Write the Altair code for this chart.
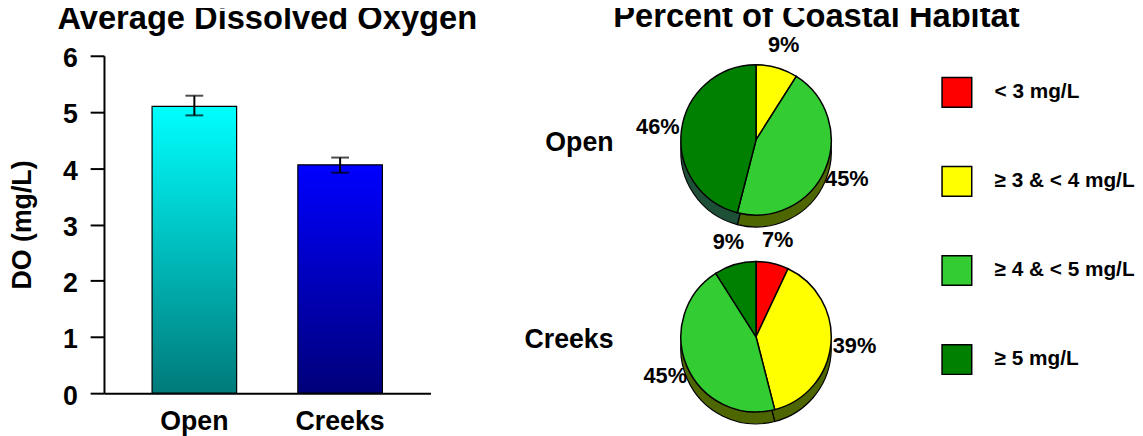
import altair as alt
import pandas as pd

FONT = "Liberation Sans"

# ---- data -------------------------------------------------------------
sites = ["Open", "Creeks"]
do_mean = [5.10, 4.06]
do_hi = [5.29, 4.19]
do_lo = [4.94, 3.92]

classes = ["< 3 mg/L", "≥ 3 & < 4 mg/L", "≥ 4 & < 5 mg/L", "≥ 5 mg/L"]
open_pct = [0, 9, 45, 46]
creeks_pct = [7, 39, 45, 9]

face_colors = ["#ff0000", "#ffff00", "#33cc33", "#008000"]
side_colors = ["#7a1a00", "#4d6600", "#4d6600", "#1e5038"]

bar_df = pd.DataFrame({"site": sites, "mean": do_mean, "hi": do_hi, "lo": do_lo})

rows = []
for s, vals in zip(sites, [open_pct, creeks_pct]):
    for i, (c, v) in enumerate(zip(classes, vals)):
        rows.append({"site": s, "cls": c, "idx": i, "pct": v})
pie_df = pd.DataFrame(rows)
site_df = pd.DataFrame({"site": sites})

# ---- bar chart --------------------------------------------------------
grad_open = {"gradient": "linear", "x1": 0, "y1": 0, "x2": 0, "y2": 1,
             "stops": [{"offset": 0, "color": "#00ffff"}, {"offset": 1, "color": "#007a7a"}]}
grad_creeks = {"gradient": "linear", "x1": 0, "y1": 0, "x2": 0, "y2": 1,
               "stops": [{"offset": 0, "color": "#0000ff"}, {"offset": 1, "color": "#00007a"}]}

xs = alt.X("site:N", sort=sites, title=None,
           scale=alt.Scale(paddingInner=0.42, paddingOuter=0.33),
           axis=alt.Axis(labelAngle=0, labelFontSize=27, labelFont=FONT, labelFontWeight="bold",
                         labelColor="black", labelPadding=16, ticks=False,
                         domainColor="black", domainWidth=2))
YT = "DO (mg/L)"
ys = alt.Y("mean:Q", title=YT, scale=alt.Scale(domain=[0, 6], nice=False),
           axis=alt.Axis(values=[0, 1, 2, 3, 4, 5, 6], format="d", grid=False, tickSize=14,
                         tickWidth=2, tickColor="black", domainColor="black", domainWidth=2,
                         labelFontSize=27, labelFontWeight="bold", labelFont=FONT,
                         labelColor="black", labelPadding=13, labelOffset=3,
                         titleFontSize=27, titleFont=FONT,
                         titleFontWeight="bold", titleColor="black", titlePadding=26))

bars = alt.Chart(bar_df).mark_bar(stroke="black", strokeWidth=1.2).encode(
    x=xs, y=ys,
    color=alt.condition(alt.datum.site == "Open", alt.value(grad_open), alt.value(grad_creeks)))
err = alt.Chart(bar_df).mark_rule(color="black", strokeWidth=2).encode(
    x=alt.X("site:N", sort=sites), y=alt.Y("lo:Q", title=YT), y2="hi:Q")
cap_hi = alt.Chart(bar_df).mark_tick(color="black", thickness=2, size=18).encode(
    x=alt.X("site:N", sort=sites), y=alt.Y("hi:Q", title=YT))
cap_lo = alt.Chart(bar_df).mark_tick(color="black", thickness=2, size=18).encode(
    x=alt.X("site:N", sort=sites), y=alt.Y("lo:Q", title=YT))

left = alt.layer(bars, err, cap_hi, cap_lo).properties(
    width=330, height=341, view=alt.ViewBackground(stroke=None),
    title=alt.TitleParams("Average Dissolved Oxygen", fontSize=33, font=FONT,
                          fontWeight="bold", color="black", anchor="middle", offset=9))

# ---- pies -------------------------------------------------------------
R = 76
base = alt.Chart(pie_df).transform_window(
    cum="sum(pct)", groupby=["site"], sort=[alt.SortField("idx")], frame=[None, 0]
).transform_calculate(
    start="datum.cum - datum.pct", mid="datum.cum - datum.pct / 2",
    lbl="datum.pct + '%'"
).transform_filter("datum.pct > 0")

yenc = alt.Y("site:N", scale=alt.Scale(type="point", domain=sites, range=[85, 284], padding=0),
             axis=None)
theta_scale = alt.Scale(domain=[0, 100])
cx = alt.value(254)

side_col = alt.Color("cls:N", scale=alt.Scale(domain=classes, range=side_colors), legend=None)
face_col = alt.Color("cls:N", scale=alt.Scale(domain=classes, range=face_colors),
                     legend=alt.Legend(title=None, orient="none", legendX=441, legendY=21,
                                       symbolType="square", symbolSize=900,
                                       symbolStrokeColor="black", symbolStrokeWidth=1.5,
                                       symbolOpacity=1, labelFont=FONT, labelFontSize=21,
                                       labelFontWeight="bold", labelColor="black",
                                       labelOffset=22, rowPadding=54, padding=0,
                                       labelLimit=300))

depth_layers = []
for off in [3, 6, 9]:
    depth_layers.append(base.mark_arc(radius=R, yOffset=off).encode(
        x=cx, y=yenc, theta=alt.Theta("start:Q", scale=theta_scale, stack=False),
        theta2="cum:Q", color=side_col))
depth_layers.append(base.mark_arc(radius=R, yOffset=12, stroke="black", strokeWidth=1.2).encode(
    x=cx, y=yenc, theta=alt.Theta("start:Q", scale=theta_scale, stack=False),
    theta2="cum:Q", color=side_col))

face = base.mark_arc(radius=R, stroke="black", strokeWidth=1.5).encode(
    x=cx, y=yenc, theta=alt.Theta("start:Q", scale=theta_scale, stack=False),
    theta2="cum:Q", color=face_col)

labels = base.mark_text(radius=100, font=FONT, fontSize=22, fontWeight="bold",
                        color="black").encode(
    x=cx, y=yenc, theta=alt.Theta("mid:Q", scale=theta_scale, stack=False),
    text="lbl:N")

rowlab = alt.Chart(site_df).mark_text(align="right", baseline="middle", fontSize=27, font=FONT,
                                      fontWeight="bold", color="black", dy=3).encode(
    x=alt.value(110), y=yenc, text="site:N")

right = alt.layer(*depth_layers, face, labels, rowlab).resolve_scale(
    color="independent").properties(
    width=630, height=341, view=alt.ViewBackground(stroke=None),
    title=alt.TitleParams("Percent of Coastal Habitat", fontSize=33, font=FONT,
                          fontWeight="bold", color="black", anchor="middle", offset=0))

chart = alt.hconcat(left, right, spacing=75, bounds="flush").properties(
    padding={"left": 0, "top": -10, "right": 0, "bottom": 0}
).configure_view(stroke=None).configure(font=FONT)

chart.save("out.html", embed_options={"renderer": "svg", "actions": False})
